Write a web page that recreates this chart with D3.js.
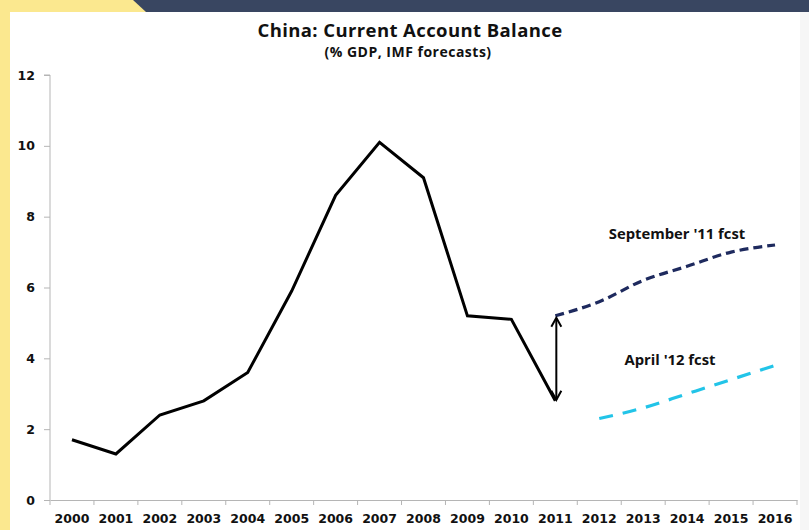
<!DOCTYPE html>
<html>
<head>
<meta charset="utf-8">
<script src="https://cdn.jsdelivr.net/npm/d3@7/dist/d3.min.js"></script>
<style>
  html, body { margin: 0; padding: 0; background: #ffffff; }
  svg { display: block; }
</style>
</head>
<body>
<svg id="chart" width="809" height="530"></svg>
<script>
// Years on the category axis
const years = ["2000","2001","2002","2003","2004","2005","2006","2007","2008",
               "2009","2010","2011","2012","2013","2014","2015","2016"];
// Actual current account balance, % of GDP
const actualYears = ["2000","2001","2002","2003","2004","2005","2006","2007","2008","2009","2010","2011"];
const actualValues = [1.7, 1.3, 2.4, 2.8, 3.6, 5.9, 8.6, 10.1, 9.1, 5.2, 5.1, 2.8];
// IMF September 2011 forecast
const sepYears = ["2011","2012","2013","2014","2015","2016"];
const sepValues = [5.2, 5.6, 6.2, 6.6, 7.0, 7.2];
// IMF April 2012 forecast
const aprYears = ["2012","2013","2014","2015","2016"];
const aprValues = [2.3, 2.6, 3.0, 3.4, 3.8];
// Value-axis ticks
const yTicks = [0, 2, 4, 6, 8, 10, 12];

const svg = d3.select("#chart");
const W = 809, H = 530;

// Page frame: yellow band and navy header strip
svg.append("rect").attr("x", 0).attr("y", 0).attr("width", W).attr("height", H).attr("fill", "#fbe88f");
svg.append("path").attr("d", "M133,0 L809,0 L809,12 L146,12 Z").attr("fill", "#394661");
svg.append("rect").attr("x", 10).attr("y", 12).attr("width", W - 10).attr("height", H - 12).attr("fill", "#ffffff");
svg.append("rect").attr("x", 800).attr("y", 12).attr("width", 9).attr("height", H - 12).attr("fill", "#f6f6f6");

const plotLeft = 50, plotRight = 797, plotTop = 75, plotBottom = 500;

const x = d3.scaleBand().domain(years).range([plotLeft, plotRight]).padding(0);
const y = d3.scaleLinear().domain([0, 12]).range([plotBottom, plotTop]);
const cx = d => x(d) + x.bandwidth() / 2;

const labelFont = "'DejaVu Sans', Verdana, sans-serif";
const textFont = "'Open Sans', 'Noto Sans', sans-serif";

// Title
svg.append("text").attr("x", 410).attr("y", 37).attr("text-anchor", "middle")
  .attr("font-family", textFont).attr("font-weight", 700).attr("font-size", 18.5)
  .attr("letter-spacing", 0.4)
  .attr("fill", "#111").text("China: Current Account Balance");
svg.append("text").attr("x", 408).attr("y", 57).attr("text-anchor", "middle")
  .attr("font-family", textFont).attr("font-weight", 700).attr("font-size", 14)
  .attr("letter-spacing", 0.5)
  .attr("fill", "#111").text("(% GDP, IMF forecasts)");

// Y axis
const yAxis = svg.append("g").attr("transform", `translate(${plotLeft},0)`)
  .call(d3.axisLeft(y).tickValues(yTicks).tickSize(6).tickPadding(9).tickFormat(d3.format("d")));
yAxis.select(".domain").attr("stroke", "#b5b5b5").attr("d", `M-6,${plotTop}H0V${plotBottom}`);
yAxis.selectAll(".tick line").attr("stroke", "#b5b5b5");
yAxis.selectAll(".tick text").attr("font-family", labelFont).attr("font-weight", 700)
  .attr("font-size", 12.5).attr("fill", "#111");

// X axis: labels centred in bands, tick marks on band boundaries
const xAxis = svg.append("g").attr("transform", `translate(0,${plotBottom})`)
  .call(d3.axisBottom(x).tickSize(0).tickPadding(14));
xAxis.select(".domain").attr("stroke", "#b5b5b5");
xAxis.selectAll(".tick text").attr("font-family", labelFont).attr("font-weight", 700)
  .attr("font-size", 12.5).attr("fill", "#111");
const bounds = years.map(d => x(d)).concat([x(years[years.length - 1]) + x.bandwidth()]);
xAxis.selectAll(".bound").data(bounds).enter().append("line")
  .attr("x1", d => d).attr("x2", d => d).attr("y1", 0).attr("y2", 5)
  .attr("stroke", "#b5b5b5");

// Actual series
const line = d3.line().x(d => cx(d[0])).y(d => y(d[1]));
svg.append("path").datum(actualYears.map((d, i) => [d, actualValues[i]]))
  .attr("d", line).attr("fill", "none").attr("stroke", "#000").attr("stroke-width", 3)
  .attr("stroke-linejoin", "miter");

// September '11 forecast
const smooth = d3.line().x(d => cx(d[0])).y(d => y(d[1])).curve(d3.curveMonotoneX);
svg.append("path").datum(sepYears.map((d, i) => [d, sepValues[i]]))
  .attr("d", smooth).attr("fill", "none").attr("stroke", "#1e2a5e").attr("stroke-width", 3.2)
  .attr("stroke-dasharray", "9,5");

// April '12 forecast
svg.append("path").datum(aprYears.map((d, i) => [d, aprValues[i]]))
  .attr("d", smooth).attr("fill", "none").attr("stroke", "#22c4e8").attr("stroke-width", 3.2)
  .attr("stroke-dasharray", "14,10");

// Revision arrow at 2011
const ax = cx("2011") + 1;
const yA = y(sepValues[0]) + 2, yB = y(actualValues[actualValues.length - 1]) - 1;
const arrow = svg.append("g").attr("stroke", "#000").attr("stroke-width", 2).attr("fill", "none");
arrow.append("line").attr("x1", ax).attr("x2", ax).attr("y1", yA).attr("y2", yB);
arrow.append("path").attr("d", `M${ax - 5},${yA + 9}L${ax},${yA}L${ax + 5},${yA + 9}`);
arrow.append("path").attr("d", `M${ax - 5},${yB - 9}L${ax},${yB}L${ax + 5},${yB - 9}`);

// Series labels
svg.append("text").attr("x", 677).attr("y", 239).attr("text-anchor", "middle")
  .attr("font-family", textFont).attr("font-weight", 700).attr("font-size", 14.8)
  .attr("fill", "#111").text("September '11 fcst");
svg.append("text").attr("x", 670).attr("y", 365).attr("text-anchor", "middle")
  .attr("font-family", textFont).attr("font-weight", 700).attr("font-size", 14.8)
  .attr("fill", "#111").text("April '12 fcst");
</script>
</body>
</html>
